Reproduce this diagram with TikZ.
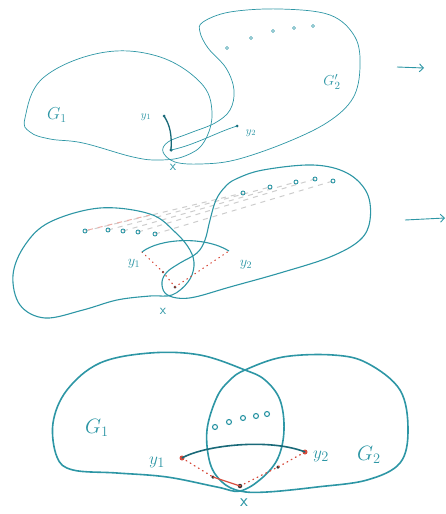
\documentclass[tikz,border=0pt]{standalone}
\usetikzlibrary{arrows.meta}
\definecolor{tealA}{RGB}{45,150,165}
\definecolor{tealD}{RGB}{25,105,120}
\definecolor{redA}{RGB}{215,75,60}
\definecolor{grayA}{RGB}{205,205,205}
\begin{document}
\begin{tikzpicture}[x=1pt,y=-1pt,
  blobA/.style={draw=tealA, line width=0.7pt},
  blobB/.style={draw=tealA, line width=1.1pt},
  blobC/.style={draw=tealA, line width=1.6pt},
  vdot/.style={circle, draw=tealA, line width=0.6pt, inner sep=0pt, minimum size=3pt},
  vdotB/.style={circle, draw=tealA, line width=0.9pt, inner sep=0pt, minimum size=4pt},
  vdotC/.style={ellipse, draw=tealA, line width=1.1pt, inner sep=0pt, minimum width=4.5pt, minimum height=6pt},
  pt/.style={circle, fill=tealD, inner sep=0pt, minimum size=3.5pt},
  bpt/.style={circle, fill=black!80, inner sep=0pt, minimum size=3pt},
  rpt/.style={circle, fill=redA, inner sep=0pt, minimum size=5pt},
  lab/.style={text=tealA, inner sep=0pt},
  rdash/.style={draw=redA, line width=1.3pt, line cap=round, dash pattern=on 0.8pt off 4pt},
  gdash/.style={draw=grayA, line width=1pt, dash pattern=on 5pt off 5pt},
  arr/.style={draw=tealA, line width=0.9pt, -{Straight Barb[length=4pt,width=8pt]}}
]
\useasboundingbox (0,0) rectangle (445,514);

% ---------------- Panel 1 ----------------
\draw[blobA] plot[smooth cycle, tension=0.65] coordinates {(25,118) (43,78) (100,53) (157,56) (200,82) (212,112) (204,142) (185,156) (160,160) (133,157) (83,143) (50,139) (30,132)};
\draw[blobA] plot[smooth cycle, tension=0.6] coordinates {(203,22) (230,12) (280,9) (330,15) (355,37) (360,67) (353,98) (328,122) (285,143) (235,160) (200,164) (175,162) (163,152) (168,142) (190,133) (215,123) (230,110) (234,90) (226,68) (208,48) (200,32)};
\foreach \p/\q in {227/48, 251/38, 273/31, 294/28, 313/26}
  \node[vdot] at (\p,\q) {};
\node[pt] (xa) at (171,150) {};
\node[pt, minimum size=3pt] (ya1) at (164,116) {};
\node[pt, minimum size=3pt] (ya2) at (237,126) {};
\draw[tealD, line width=1.3pt] (ya1.center) .. controls (170,125) and (172,135) .. (xa.center);
\draw[blobA] (xa.center) .. controls (195,145) and (215,133) .. (ya2.center);
\node[lab, font=\fontsize{11}{11}\selectfont] (la1) at (146,117) {$y_1$};
\node[lab, font=\fontsize{11}{11}\selectfont] (la2) at (251,133) {$y_2$};
\node[lab, font=\fontsize{17}{17}\selectfont] (ga1) at (57,115) {$G_1$};
\node[lab, font=\fontsize{15}{15}\selectfont] (ga2) at (332,82) {$G_2'$};
\node[lab, font=\fontsize{14}{14}\selectfont\sffamily] (lxa) at (173,167) {x};
\coordinate (a1s) at (397,67);
\coordinate (a1e) at (424,68);
\draw[arr] (a1s) -- (a1e);

% ---------------- Panel 2 ----------------
\foreach \i/\lx/\ly/\ux/\uy in {1/85/231/243/193, 2/108/230/270/187, 3/123/231/296/182, 4/138/232/315/179, 5/155/234/333/181}
  \draw[gdash] (\lx,\ly) -- (\ux,\uy);
\draw[redA!45, line width=1pt, dash pattern=on 5pt off 5pt] (88,230) -- (150,215);
\draw[blobB] plot[smooth cycle, tension=0.6] coordinates {(100,208) (150,214) (175,232) (190,250) (194,266) (188,282) (172,295) (150,296) (117,300) (83,310) (45,318) (20,305) (13,275) (25,245) (50,222)};
\draw[blobB] plot[smooth cycle, tension=0.6] coordinates {(236,179) (263,170) (313,165) (347,173) (367,193) (370,220) (360,240) (330,257) (280,273) (230,287) (195,297) (177,298) (165,293) (162,282) (167,272) (180,263) (197,253) (205,240) (210,220) (216,200) (225,187)};
\foreach \p/\q in {243/193, 270/187, 296/182, 315/179, 333/181, 85/231, 108/230, 123/231, 138/232, 155/234}
  \node[vdotB] at (\p,\q) {};
\node[bpt] (xb) at (175,287) {};
\coordinate (yb1) at (142,252);
\coordinate (yb2) at (229,251);
\node[bpt, minimum size=2.5pt] (mb) at (163,272) {};
\draw[rdash, line width=1.1pt] (yb1) -- (mb.center) -- (xb.center) -- (yb2);
\draw[blobB] (yb1) .. controls (160,238) and (205,236) .. (yb2);
\node[lab, font=\fontsize{14}{14}\selectfont] (lb1) at (134,264) {$y_1$};
\node[lab, font=\fontsize{14}{14}\selectfont] (lb2) at (246,265) {$y_2$};
\node[lab, font=\fontsize{14}{14}\selectfont\sffamily] (lxb) at (163,311) {x};
\coordinate (a2s) at (405,220);
\coordinate (a2e) at (445,218);
\draw[arr] (a2s) -- (a2e);

% ---------------- Panel 3 ----------------
\draw[blobC] plot[smooth cycle, tension=0.6] coordinates {(245,370) (200,355) (150,353) (100,363) (67,390) (53,423) (57,457) (73,470) (117,473) (167,477) (217,487) (240,491) (262,478) (278,458) (284,430) (280,400) (265,380)};
\draw[blobC] plot[smooth cycle, tension=0.6] coordinates {(245,370) (283,357) (333,355) (367,363) (400,390) (408,430) (400,463) (367,480) (317,487) (267,492) (240,491) (222,482) (210,463) (207,430) (217,397) (230,380)};
\foreach \p/\q in {215/427, 229/422, 243/418, 256/416, 267/414}
  \node[circle, draw=tealA, line width=1.1pt, inner sep=0pt, minimum size=5pt] at (\p,\q) {};
\node[rpt] (yc1) at (182,458) {};
\node[rpt] (yc2) at (305,452) {};
\node[bpt, minimum size=4.5pt] (xc) at (240,486) {};
\node[bpt, minimum size=3.5pt] (bc1) at (213,477) {};
\node[bpt, minimum size=3.5pt] (bc2) at (278,467) {};
\draw[rdash] (yc1.center) -- (bc1.center);
\draw[redA, line width=1.2pt] (bc1.center) -- (xc.center);
\draw[rdash] (xc.center) -- (bc2.center) -- (yc2.center);
\draw[blobC, tealD] (yc1.center) .. controls (205,445) and (270,438) .. (yc2.center);
\node[lab, font=\fontsize{22}{22}\selectfont] (gc1) at (97,428) {$G_1$};
\node[lab, font=\fontsize{22}{22}\selectfont] (gc2) at (369,455) {$G_2$};
\node[lab, font=\fontsize{19}{19}\selectfont] (lc1) at (157,462) {$y_1$};
\node[lab, font=\fontsize{19}{19}\selectfont] (lc2) at (321,456) {$y_2$};
\node[lab, font=\fontsize{18}{18}\selectfont\sffamily] (lxc) at (244,503) {x};
\end{tikzpicture}
\end{document}
